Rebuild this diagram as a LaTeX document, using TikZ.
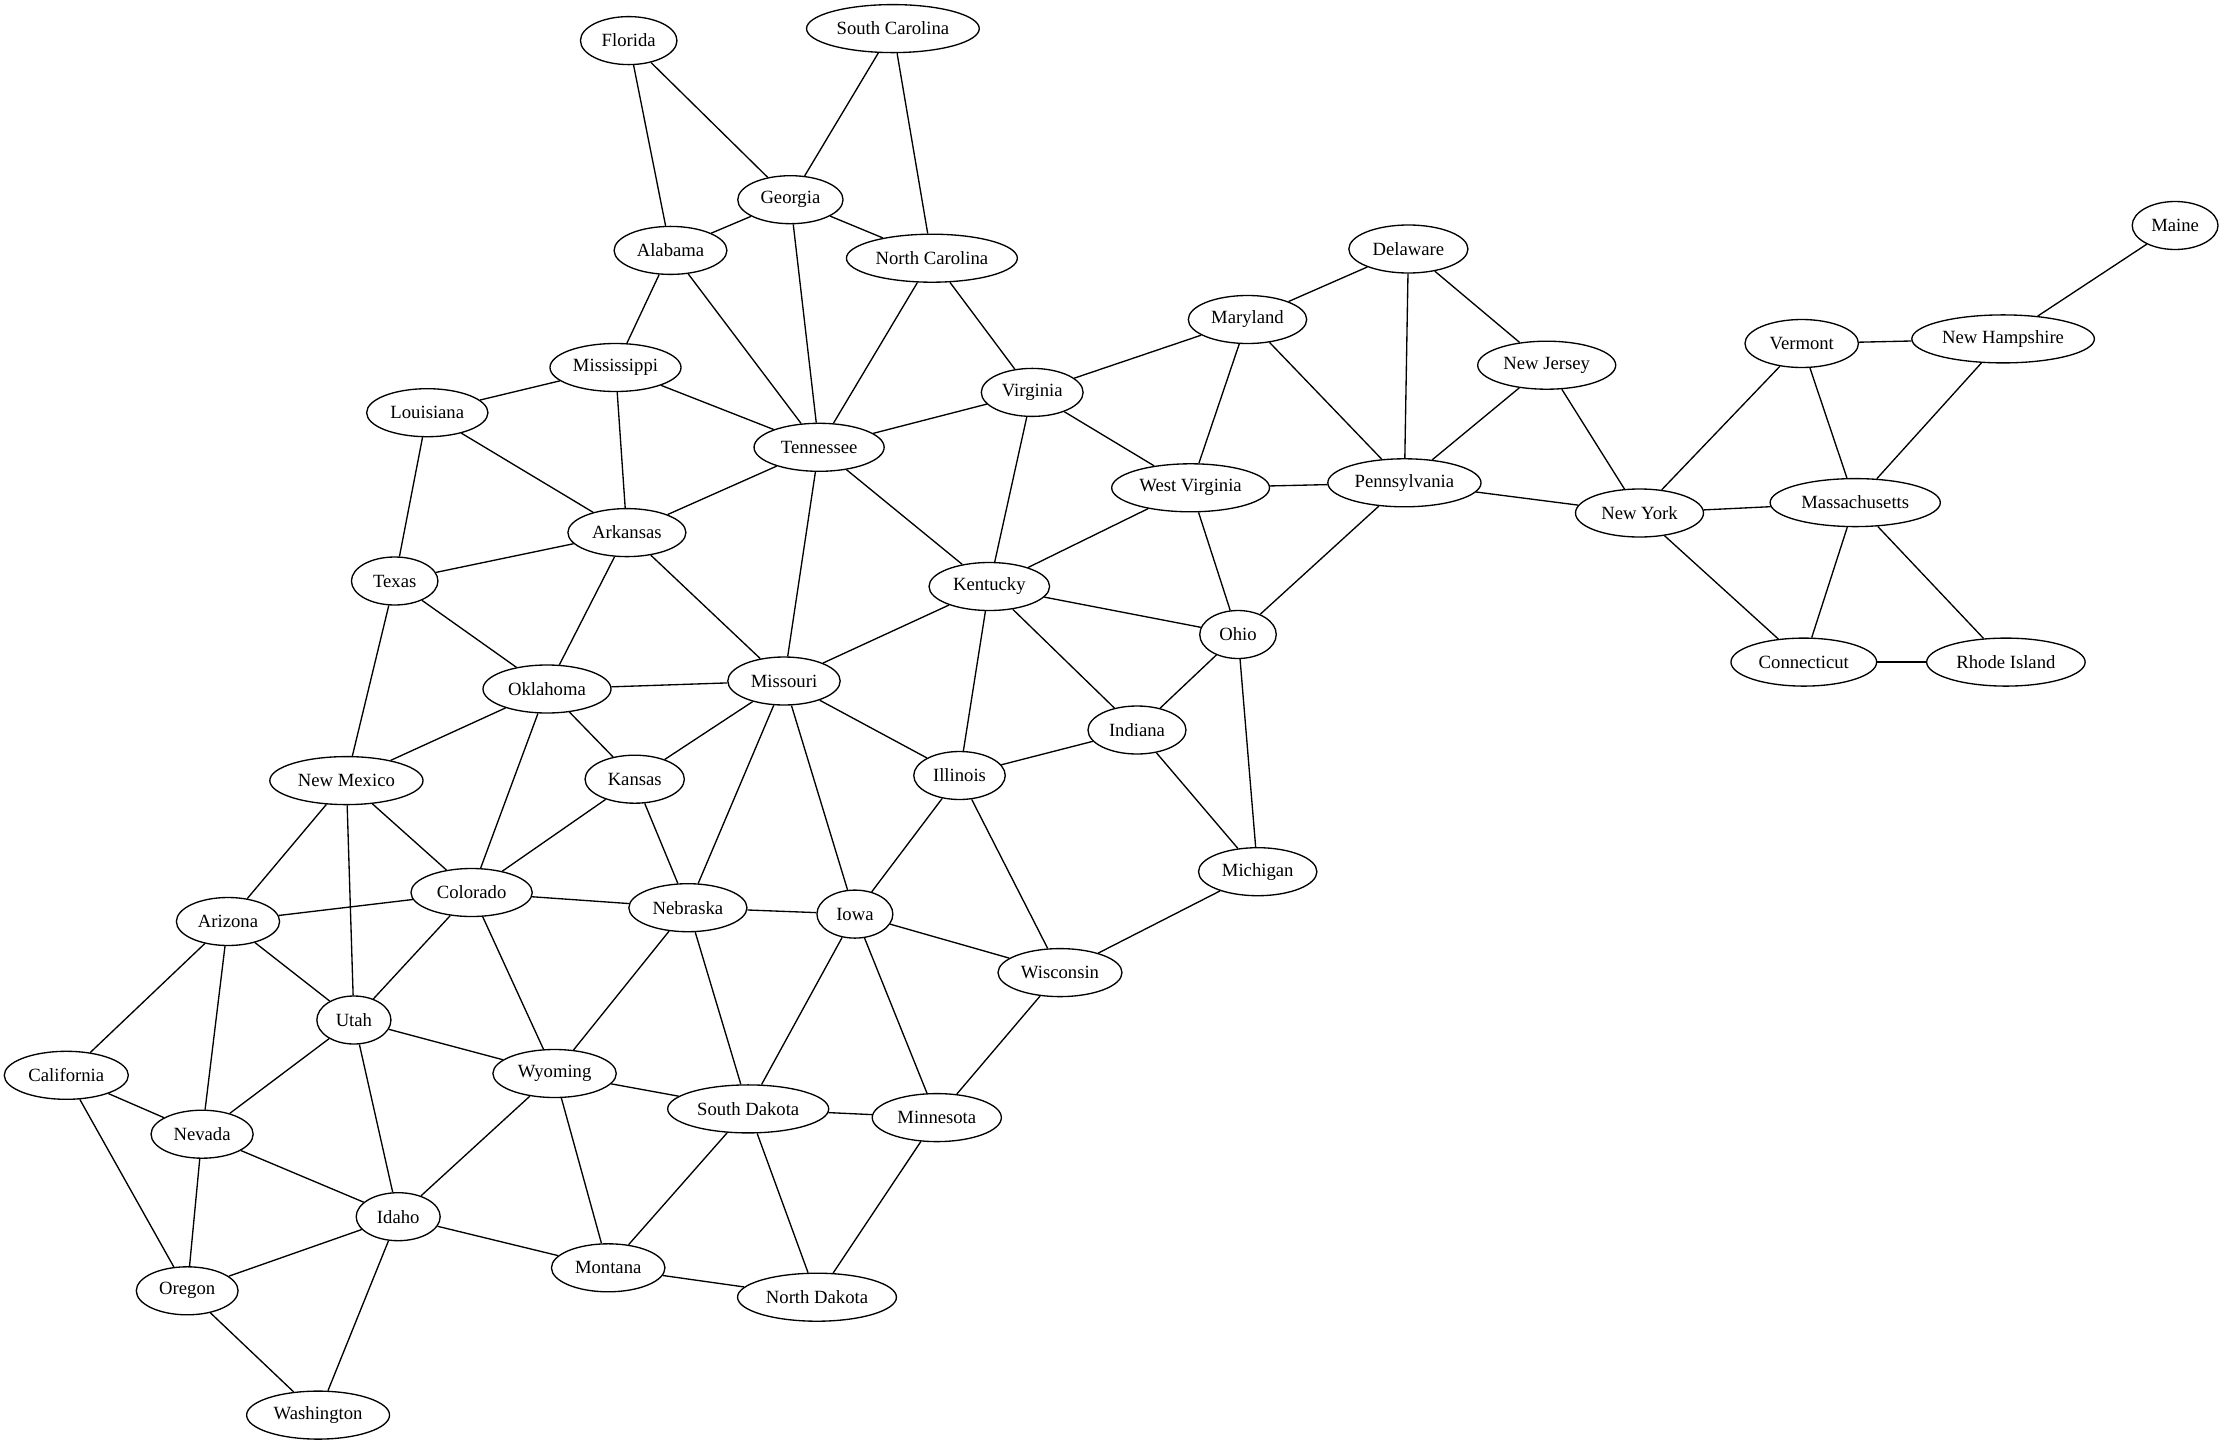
\documentclass[tikz,border=0pt]{standalone}
\usepackage{fontspec}
\setmainfont{Liberation Serif}
\usetikzlibrary{shapes.geometric}
\begin{document}
\begin{tikzpicture}[x=0.75pt,y=-0.75pt,
  state/.style={draw,ellipse,line width=1pt,minimum height=36pt,inner sep=0pt,
    font=\fontsize{14}{16}\selectfont},
  wd/.style={minimum width=#1*0.75pt},
  link/.style={line width=1pt}]
\useasboundingbox (0,0) rectangle (2224,1445);
% south-east
\node[state,wd=96.5]  (FL) at (628.7,40.6)  {Florida};
\node[state,wd=172.7] (SC) at (892.9,28.6)  {South Carolina};
\node[state,wd=105.3] (GA) at (790.4,199.7) {Georgia};
\node[state,wd=112.8] (AL) at (670.5,250.4) {Alabama};
\node[state,wd=170.9] (NC) at (931.9,258.2) {North Carolina};
\node[state,wd=131]   (MS) at (615.5,367.5) {Mississippi};
\node[state,wd=101.8] (VA) at (1032.2,392.4) {Virginia};
\node[state,wd=130.1] (TN) at (819.1,447.3) {Tennessee};
\node[state,wd=118]   (AR) at (626.9,532.6) {Arkansas};
\node[state,wd=120.6] (KY) at (989.3,586.5) {Kentucky};
\node[state,wd=112.4] (MO) at (784,681)     {Missouri};
\node[state,wd=128]   (OK) at (547,689)     {Oklahoma};
\node[state,wd=121.3] (LA) at (427.3,412.7) {Louisiana};
\node[state,wd=86.5]  (TX) at (394.7,581)   {Texas};
% north-east
\node[state,wd=119.1] (DE) at (1408.4,249)  {Delaware};
\node[state,wd=118.4] (MD) at (1247.5,319.5) {Maryland};
\node[state,wd=138]   (NJ) at (1546.7,365.2) {New Jersey};
\node[state,wd=157.8] (WV) at (1190.6,487.8) {West Virginia};
\node[state,wd=153.2] (PA) at (1404.4,482.8) {Pennsylvania};
\node[state,wd=128]   (NY) at (1639.5,513)  {New York};
\node[state,wd=76.5]  (OH) at (1238,634.5)  {Ohio};
\node[state,wd=85.8]  (ME) at (2175.1,225.5) {Maine};
\node[state,wd=113.5] (VT) at (1801.7,343.5) {Vermont};
\node[state,wd=182.6] (NH) at (2003.1,338.9) {New Hampshire};
\node[state,wd=170.2] (MA) at (1855.2,502.6) {Massachusetts};
\node[state,wd=145.7] (CT) at (1803.8,662.1) {Connecticut};
\node[state,wd=158.5] (RI) at (2005.9,662.1) {Rhode Island};
% midwest
\node[state,wd=98]    (IN) at (1137,730)    {Indiana};
\node[state,wd=91.5]  (IL) at (959.5,775.5) {Illinois};
\node[state,wd=118.4] (MI) at (1257.7,871.7) {Michigan};
\node[state,wd=124]   (WI) at (1060,972.6)  {Wisconsin};
\node[state,wd=99.3]  (KS) at (634.7,779.2) {Kansas};
\node[state,wd=118.1] (NE) at (687.9,907.7) {Nebraska};
\node[state,wd=75.9]  (IA) at (854.9,914.1) {Iowa};
\node[state,wd=161]   (SD) at (748.2,1108.9) {South Dakota};
\node[state,wd=129.1] (MN) at (936.8,1117.6) {Minnesota};
\node[state,wd=158.9] (ND) at (817,1297.2)  {North Dakota};
% west
\node[state,wd=153.2] (NM) at (346.4,780.6) {New Mexico};
\node[state,wd=121.3] (CO) at (471.6,892.5) {Colorado};
\node[state,wd=103.2] (AZ) at (228,921.5)   {Arizona};
\node[state,wd=74.1]  (UT) at (353.9,1020)  {Utah};
\node[state,wd=123.4] (WY) at (554.6,1073.5) {Wyoming};
\node[state,wd=124.1] (CA) at (66.3,1075.3) {California};
\node[state,wd=102.1] (NV) at (202.1,1134.2) {Nevada};
\node[state,wd=84]    (ID) at (398.2,1216.7) {Idaho};
\node[state,wd=113.5] (MT) at (608.2,1267.8) {Montana};
\node[state,wd=101.8] (OR) at (187.2,1290.8) {Oregon};
\node[state,wd=142.9] (WA) at (318.1,1415.1) {Washington};
% borders between neighbouring states
\foreach \a/\b in {FL/GA, FL/AL, SC/GA, SC/NC, GA/AL, GA/NC, GA/TN, AL/MS, AL/TN,
  NC/TN, NC/VA, MS/LA, MS/TN, MS/AR, LA/AR, LA/TX, TN/VA, TN/AR, TN/KY, TN/MO,
  VA/MD, VA/WV, VA/KY, MD/DE, MD/WV, MD/PA, DE/NJ, DE/PA, NJ/PA, NJ/NY, WV/PA,
  WV/KY, WV/OH, PA/NY, PA/OH, NY/VT, NY/MA, NY/CT, VT/NH, VT/MA, NH/ME, NH/MA,
  MA/CT, MA/RI, CT/RI, AR/TX, AR/OK, AR/MO, TX/OK, TX/NM, KY/OH, KY/MO, KY/IN,
  KY/IL, OH/IN, OH/MI, OK/MO, OK/KS, OK/NM, OK/CO, MO/KS, MO/IL, MO/NE, MO/IA,
  IN/IL, IN/MI, IL/IA, IL/WI, NM/AZ, NM/CO, NM/UT, KS/CO, KS/NE, MI/WI, CO/AZ,
  CO/NE, CO/UT, CO/WY, NE/IA, NE/WY, NE/SD, IA/WI, IA/SD, IA/MN, AZ/UT, AZ/CA,
  AZ/NV, WI/MN, UT/WY, UT/NV, UT/ID, WY/SD, WY/ID, WY/MT, CA/NV, CA/OR, SD/MN,
  SD/MT, SD/ND, MN/ND, NV/OR, NV/ID, ID/MT, ID/OR, ID/WA, MT/ND, OR/WA}
  \draw[link] (\a) -- (\b);
\end{tikzpicture}
\end{document}
